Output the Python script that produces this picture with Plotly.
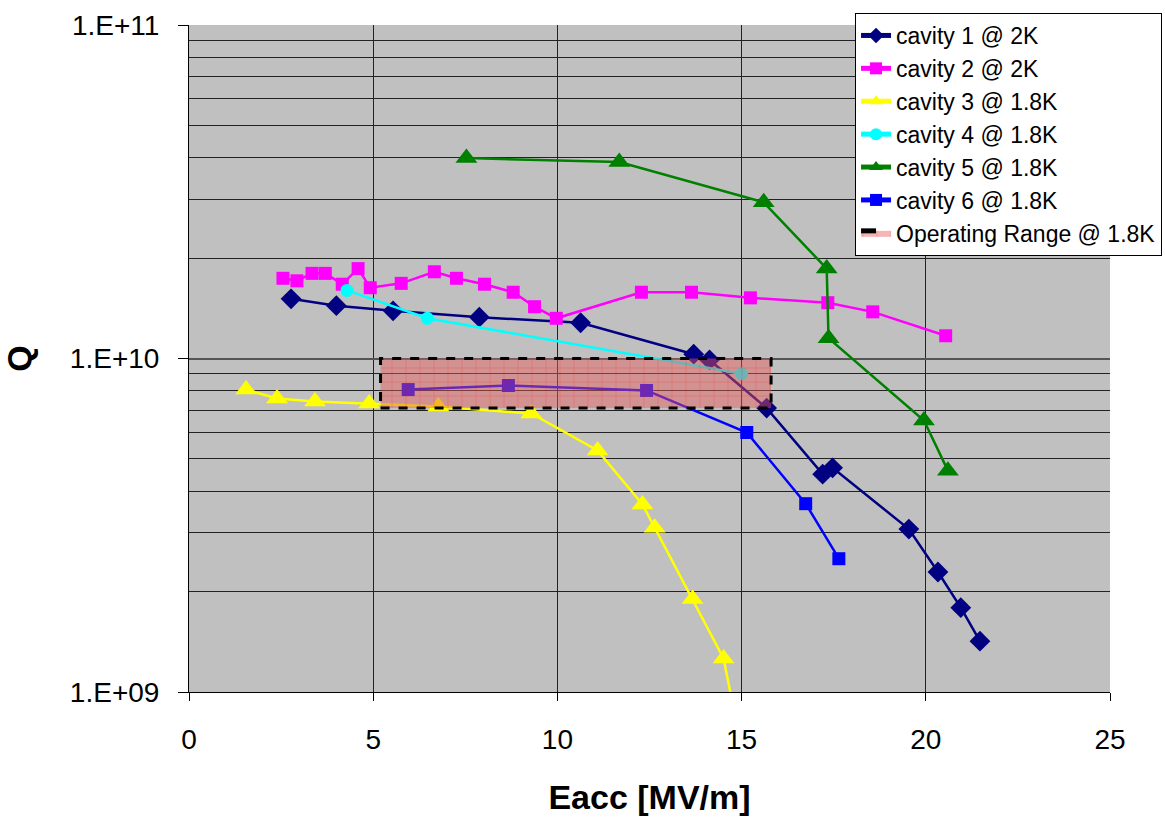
import plotly.graph_objects as go

# ---- data (Eacc in MV/m, Q) ----
c1_x = [2.77, 4.0, 5.54, 7.88, 10.63, 13.7, 14.13, 15.68, 17.2, 17.47, 19.54, 20.33, 20.95, 21.47]
c1_q = [1.51e10, 1.44e10, 1.39e10, 1.33e10, 1.28e10, 1.03e10, 9.9e9, 7.1e9, 4.5e9, 4.7e9, 3.08e9, 2.29e9, 1.79e9, 1.42e9]

c2_x = [2.55, 2.93, 3.34, 3.70, 4.16, 4.59, 4.92, 5.76, 6.66, 7.26, 8.02, 8.80, 9.38, 9.97,
        12.28, 13.64, 15.24, 17.34, 18.56, 20.54]
c2_q = [1.74e10, 1.71e10, 1.80e10, 1.80e10, 1.67e10, 1.86e10, 1.63e10, 1.68e10, 1.82e10, 1.74e10,
        1.67e10, 1.58e10, 1.43e10, 1.32e10, 1.58e10, 1.58e10, 1.52e10, 1.47e10, 1.38e10, 1.17e10]

c3_x = [1.55, 2.39, 3.42, 4.89, 6.77, 9.29, 11.09, 12.31, 12.64, 13.67, 14.51, 14.85]
c3_q = [8.07e9, 7.59e9, 7.43e9, 7.33e9, 7.18e9, 6.84e9, 5.30e9, 3.65e9, 3.11e9, 1.90e9, 1.26e9, 8.2e8]

c4_x = [4.29, 6.47, 15.0]
c4_q = [1.60e10, 1.32e10, 9.0e9]

c5_x = [7.53, 11.68, 15.6, 17.31, 17.36, 19.95, 20.6]
c5_q = [3.99e10, 3.88e10, 2.94e10, 1.86e10, 1.15e10, 6.52e9, 4.61e9]

c6_x = [5.95, 8.67, 12.42, 15.14, 16.74, 17.64]
c6_q = [8.07e9, 8.30e9, 8.02e9, 6.00e9, 3.67e9, 2.51e9]

op_x = [5.2, 15.8, 15.8, 5.2, 5.2]
op_q = [7.1e9, 7.1e9, 1.0e10, 1.0e10, 7.1e9]

x_ticks = [0, 5, 10, 15, 20, 25]
y_major = [1e9, 1e10, 1e11]
y_major_text = ["1.E+09", "1.E+10", "1.E+11"]
y_minor = [m * 10 ** e for e in (9, 10) for m in range(2, 10)]

series = [
    ("cavity 1 @ 2K", c1_x, c1_q, "#000080", "diamond", 16),
    ("cavity 2 @ 2K", c2_x, c2_q, "#FF00FF", "square", 13),
    ("cavity 3 @ 1.8K", c3_x, c3_q, "#FFFF00", "triangle-up", 19),
    ("cavity 4 @ 1.8K", c4_x, c4_q, "#00FFFF", "circle", 13),
    ("cavity 5 @ 1.8K", c5_x, c5_q, "#008000", "triangle-up", 19),
    ("cavity 6 @ 1.8K", c6_x, c6_q, "#0000FF", "square", 13),
]

FONT = "Liberation Sans, Arial, sans-serif"

fig = go.Figure()
for name, xs, qs, col, sym, sz in series:
    fig.add_trace(go.Scatter(
        x=xs, y=qs, name=name, mode="lines+markers",
        line=dict(color=col, width=2.5),
        marker=dict(color=col, symbol=sym, size=sz, line=dict(width=0)),
        cliponaxis=True,
    ))

fig.add_trace(go.Scatter(
    x=op_x, y=op_q, name="Operating Range @ 1.8K", mode="lines",
    fill="toself",
    fillcolor="rgba(235,90,90,0.45)",
    fillpattern=dict(shape="+", fgcolor="rgba(255,0,0,0.5)",
                     bgcolor="rgba(235,90,90,0.45)", size=14, solidity=0.1),
    line=dict(color="black", width=3, dash="dash"),
))

fig.update_layout(
    width=1165, height=818,
    margin=dict(l=189, r=55, t=25, b=126, autoexpand=False),
    paper_bgcolor="white",
    plot_bgcolor="#C0C0C0",
    font=dict(family=FONT, size=28, color="black"),
    showlegend=True,
    legend=dict(
        x=1.0565, y=1.018, xanchor="right", yanchor="top",
        bgcolor="white", bordercolor="black", borderwidth=1,
        font=dict(family=FONT, size=23, color="black"),
        tracegroupgap=0, itemsizing="constant",
    ),
)

fig.update_xaxes(
    range=[0, 25], tickvals=x_ticks, ticks="outside", ticklen=8,
    tickcolor="black", showline=True, linecolor="black", linewidth=1,
    showgrid=True, gridcolor="#222222", gridwidth=1, zeroline=False,
    ticklabelstandoff=14, automargin=False,
    title=dict(text="<b>Eacc [MV/m]</b>", font=dict(family=FONT, size=34), standoff=31),
)
fig.update_yaxes(
    type="log", range=[9, 11], tickvals=y_major, ticktext=y_major_text,
    ticks="outside", ticklen=10, tickcolor="black",
    showline=True, linecolor="black", linewidth=1,
    showgrid=True, gridcolor="#555555", gridwidth=1.5, zeroline=False,
    ticklabelstandoff=13, automargin=False,
    minor=dict(tickvals=y_minor, showgrid=True, gridcolor="#222222", gridwidth=1, ticks=""),
    title=dict(text="<b>Q</b>", font=dict(family=FONT, size=34), standoff=32),
)

fig.write_html("out.html")
